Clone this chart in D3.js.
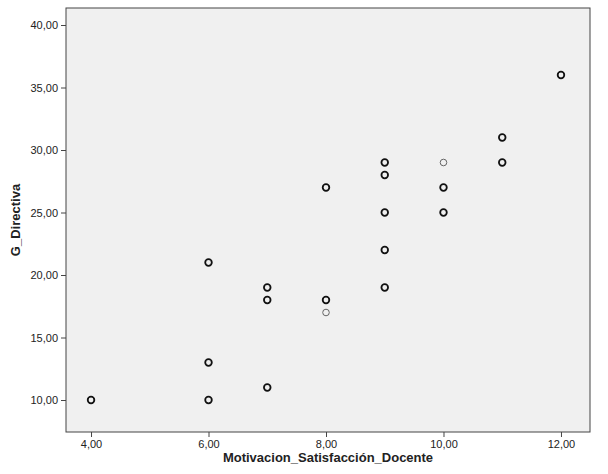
<!DOCTYPE html>
<html>
<head>
<meta charset="utf-8">
<script src="https://d3js.org/d3.v7.min.js"></script>
<style>
  body { margin: 0; background: #fff; }
  svg text { font-family: Arial, "Liberation Sans", sans-serif; }
</style>
</head>
<body>
<svg width="608" height="474"></svg>
<script>
// data
const motivacion = [4, 6, 6, 6, 7, 7, 7, 8, 8, 8, 9, 9, 9, 9, 9, 10, 10, 10, 11, 11, 12];
const directiva  = [10, 10, 13, 21, 11, 18, 19, 17, 18, 27, 19, 22, 25, 28, 29, 25, 27, 29, 29, 31, 36];
const faint      = [0, 0, 0, 0, 0, 0, 0, 1, 0, 0, 0, 0, 0, 0, 0, 0, 0, 1, 0, 0, 0];
const xTicks = [4, 6, 8, 10, 12];
const yTicks = [10, 15, 20, 25, 30, 35, 40];

const fmt = d => d.toFixed(2).replace('.', ',');
const box = {left: 66, right: 590, top: 8, bottom: 432};

const svg = d3.select("svg");
const x = d3.scaleLinear().domain([3.574, 12.494]).range([box.left, box.right]);
const y = d3.scaleLinear().domain([7.44, 41.36]).range([box.bottom, box.top]);

svg.append("rect")
  .attr("x", box.left).attr("y", box.top)
  .attr("width", box.right - box.left).attr("height", box.bottom - box.top)
  .attr("fill", "#f0f0f0").attr("stroke", "#444").attr("stroke-width", 1);

const xAxis = svg.append("g")
  .attr("transform", "translate(0," + box.bottom + ")")
  .call(d3.axisBottom(x).tickValues(xTicks).tickFormat(fmt).tickSize(5));
const yAxis = svg.append("g")
  .attr("transform", "translate(" + box.left + ",0)")
  .call(d3.axisLeft(y).tickValues(yTicks).tickFormat(fmt).tickSize(5));
[xAxis, yAxis].forEach(a => {
  a.select(".domain").remove();
  a.selectAll("line").attr("stroke", "#444");
  a.selectAll("text").attr("font-size", 11).attr("fill", "#222");
});

svg.selectAll("circle.pt")
  .data(motivacion.map((m, i) => ({m, d: directiva[i], f: faint[i]})))
  .enter().append("circle")
    .attr("class", "pt")
    .attr("cx", p => x(p.m)).attr("cy", p => y(p.d)).attr("r", 3.3)
    .attr("fill", "none")
    .attr("stroke", p => p.f ? "#666" : "#111")
    .attr("stroke-width", p => p.f ? 1 : 1.8);

svg.append("text")
  .attr("x", (box.left + box.right) / 2).attr("y", 462)
  .attr("text-anchor", "middle").attr("font-size", 13).attr("font-weight", "bold")
  .attr("fill", "#222")
  .text("Motivacion_Satisfacción_Docente");
svg.append("text")
  .attr("transform", "translate(20," + ((box.top + box.bottom) / 2) + ") rotate(-90)")
  .attr("text-anchor", "middle").attr("font-size", 13).attr("font-weight", "bold")
  .attr("fill", "#222")
  .text("G_Directiva");
</script>
</body>
</html>
